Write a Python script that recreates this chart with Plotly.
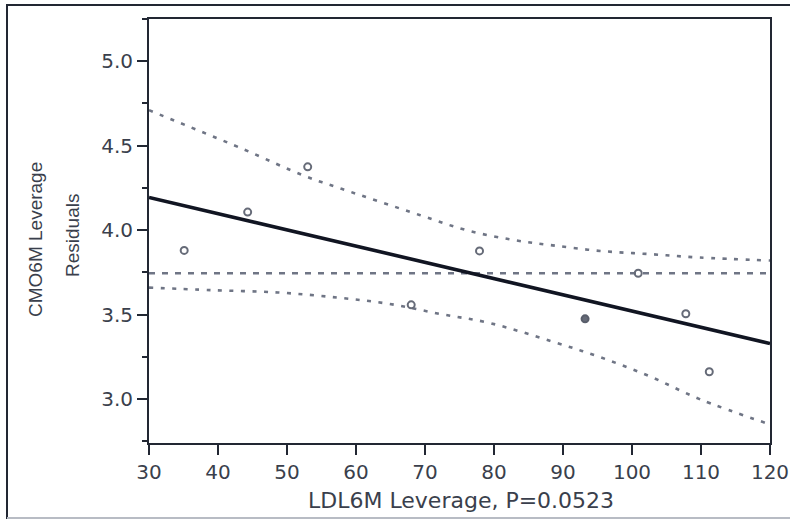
import plotly.graph_objects as go

# ---------------- data ----------------
x_pts = [35.1, 44.3, 53.0, 68.0, 77.9, 93.2, 100.9, 107.8, 111.2]
y_pts = [3.88, 4.107, 4.375, 3.558, 3.877, 3.475, 3.745, 3.505, 3.162]

fit_x = [30, 120]
fit_y = [4.194, 3.329]

mean_y = 3.745

upper_x = [30, 43.4, 52.6, 57.9, 69.2, 76.0, 82.8, 88.5, 95.4, 102.6, 109.8, 120]
upper_y = [4.71, 4.484, 4.32, 4.245, 4.09, 4.0, 3.942, 3.91, 3.877, 3.858, 3.838, 3.82]

lower_x = [30, 39.0, 48.7, 57.5, 64.9, 72.2, 79.4, 88.5, 95.4, 102.6, 109.8, 120]
lower_y = [3.66, 3.645, 3.631, 3.60, 3.563, 3.504, 3.45, 3.34, 3.248, 3.134, 3.0, 2.85]

x_ticks = [30, 40, 50, 60, 70, 80, 90, 100, 110, 120]
y_ticks = [3.0, 3.5, 4.0, 4.5, 5.0]

x_title = "LDL6M Leverage, P=0.0523"
y_title_1 = "CMO6M Leverage"
y_title_2 = "Residuals"

# ---------------- styling ----------------
W, H = 790, 521
L, R, T, B = 149, 20, 19, 78
PW, PH = W - L - R, H - T - B
AX = "#222733"
TXT = "#3a3f4c"
GRAY = "#6f7585"
filled_index = 5

fig = go.Figure()

fig.add_trace(go.Scatter(x=upper_x, y=upper_y, mode="lines",
                         line=dict(color=GRAY, width=2.6, dash="4px,7.5px", shape="spline"),
                         hoverinfo="skip"))
fig.add_trace(go.Scatter(x=lower_x, y=lower_y, mode="lines",
                         line=dict(color=GRAY, width=2.6, dash="4px,7.5px", shape="spline"),
                         hoverinfo="skip"))
fig.add_trace(go.Scatter(x=[x_ticks[0], x_ticks[-1]], y=[mean_y, mean_y], mode="lines",
                         line=dict(color=GRAY, width=2.4, dash="6px,7px"),
                         hoverinfo="skip"))
fig.add_trace(go.Scatter(x=fit_x, y=fit_y, mode="lines",
                         line=dict(color="#111522", width=3.6)))

symbols = ["circle" if i == filled_index else "circle-open" for i in range(len(x_pts))]
fig.add_trace(go.Scatter(x=x_pts, y=y_pts, mode="markers",
                         marker=dict(symbol=symbols, size=7, color="#666b78",
                                     line=dict(width=2, color="#595e6b"))))

tickfont = dict(family="DejaVu Sans", size=20, color=TXT)

fig.update_xaxes(range=[30, 120], tickvals=x_ticks, ticktext=[str(v) for v in x_ticks],
                 ticks="outside", ticklen=10, tickwidth=2, tickcolor=AX,
                 showline=True, linewidth=2, linecolor=AX, mirror=True, automargin=False,
                 showgrid=False, zeroline=False, tickfont=tickfont)
fig.update_yaxes(range=[2.74, 5.25], tickvals=y_ticks, ticktext=[f"{v:.1f}" for v in y_ticks],
                 ticks="outside", ticklen=10, tickwidth=2, tickcolor=AX,
                 minor=dict(tickvals=[2.75, 3.25, 3.75, 4.25, 4.75, 5.25], ticks="outside",
                            ticklen=5, tickwidth=2, tickcolor=AX),
                 showline=True, linewidth=2, linecolor=AX, mirror=True, automargin=False,
                 showgrid=False, zeroline=False, tickfont=tickfont)

def px_x(px):
    return (px - L) / PW

def px_y(py):
    return (H - B - py) / PH

annotations = [
    dict(text=x_title, x=px_x(461), y=px_y(500), xref="paper", yref="paper",
         showarrow=False, xanchor="center", yanchor="middle",
         font=dict(family="DejaVu Sans", size=22, color=TXT)),
    dict(text=y_title_1, x=px_x(35), y=px_y(240), xref="paper", yref="paper",
         showarrow=False, xanchor="center", yanchor="middle", textangle=-90,
         font=dict(family="Liberation Sans", size=19, color=TXT)),
    dict(text=y_title_2, x=px_x(72), y=px_y(236), xref="paper", yref="paper",
         showarrow=False, xanchor="center", yanchor="middle", textangle=-90,
         font=dict(family="Liberation Sans", size=19, color=TXT)),
]

shapes = [
    dict(type="line", xref="paper", yref="paper", x0=px_x(7), x1=px_x(7), y0=px_y(4), y1=px_y(519),
         line=dict(color=AX, width=2)),
    dict(type="line", xref="paper", yref="paper", x0=px_x(7), x1=px_x(790), y0=px_y(5), y1=px_y(5),
         line=dict(color=AX, width=2)),
    dict(type="line", xref="paper", yref="paper", x0=px_x(7), x1=px_x(790), y0=px_y(518), y1=px_y(518),
         line=dict(color="#b8bcc4", width=2)),
]

fig.update_layout(width=W, height=H, margin=dict(l=L, r=R, t=T, b=B, autoexpand=False),
                  paper_bgcolor="white", plot_bgcolor="white", showlegend=False,
                  annotations=annotations, shapes=shapes)

fig.write_html("out.html")
